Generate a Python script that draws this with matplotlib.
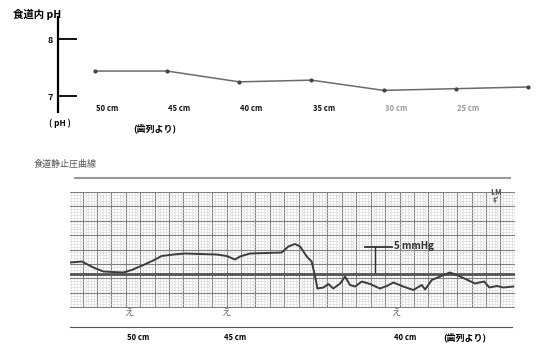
import numpy as np
import matplotlib
matplotlib.use("Agg")
import matplotlib.pyplot as plt
import matplotlib.transforms as mtransforms

plt.rcParams['font.family'] = ['Noto Sans CJK JP', 'DejaVu Sans']

# pH along the oesophagus (distance from the teeth)
depth_labels = ["50 cm", "45 cm", "40 cm", "35 cm", "30 cm", "25 cm"]
ph_values = [7.44, 7.44, 7.25, 7.28, 7.10, 7.13, 7.16]
ph_ticks = [7, 8]

# resting pressure trace, time in mm of chart paper, pressure in mmHg above baseline
trace_t = [0, 4.1, 8.1, 11.6, 15.0, 18.5, 21.4, 25.5, 28.9, 31.8, 35.9, 39.9, 45.1,
           50.9, 54.4, 57.3, 59.0, 62.5, 73.5, 75.8, 78.1, 79.9, 82.2, 83.9, 85.1,
           85.9, 88.0, 89.7, 91.4, 93.8, 95.5, 97.2, 99.0, 101.3, 104.2, 107.6,
           110.0, 112.3, 115.7, 119.2, 122.1, 123.3, 125.6, 128.5, 131.9, 134.3,
           137.7, 140.6, 143.8, 145.6, 148.2, 150.5, 153.9]
trace_p = [2.2, 2.4, 1.2, 0.4, 0.3, 0.2, 0.7, 1.7, 2.6, 3.5, 3.8, 4.0, 3.9,
           3.8, 3.5, 2.8, 3.4, 4.0, 4.2, 5.4, 5.9, 5.4, 3.4, 2.4, -0.6,
           -3.0, -2.8, -2.1, -3.0, -2.0, -0.6, -2.3, -2.6, -1.6, -2.1, -3.0,
           -2.5, -1.8, -2.6, -3.3, -2.3, -3.2, -1.3, -0.6, 0.2, -0.3,
           -1.2, -2.0, -1.6, -2.8, -2.5, -2.8, -2.6]
pull_labels = ["50 cm", "45 cm", "40 cm"]
pull_t = [20.8, 54.5, 113.5]

W, H = 536, 344


def px_rect(l, t, r, b):
    return [l / W, 1 - b / H, (r - l) / W, (b - t) / H]


def fig_text(x, y, s, **kw):
    fig.text(x / W, 1 - y / H, s, **kw)


fig = plt.figure(figsize=(W / 100, H / 100), dpi=100)

# ---- top: pH ----
ax1 = fig.add_axes(px_rect(58, 17, 536, 112))
ax1.patch.set_alpha(0)
x = np.arange(len(ph_values))
ax1.plot(x, ph_values, color="#6a6a6a", lw=1.1, marker="o", ms=2, mfc="#444444", mec="#444444")
ax1.set_xlim(-0.51, 6.11)
ax1.set_ylim(6.72, 8.39)
for s in ["top", "right", "bottom"]:
    ax1.spines[s].set_visible(False)
ax1.spines["left"].set_linewidth(1.6)
ax1.set_xticks([])
ax1.set_yticks(ph_ticks)
ax1.set_yticklabels([str(v) for v in ph_ticks], fontsize=6.5, fontweight="bold")
ax1.tick_params(axis="y", direction="in", length=14, width=1.3, pad=4)

trans = mtransforms.blended_transform_factory(ax1.transData, ax1.transAxes)
label_colors = ["#111111"] * 4 + ["#999999"] * 2
for i, lab in enumerate(depth_labels):
    ax1.text(i + 0.17, 0.04, lab, transform=trans, ha="center", va="center",
             fontsize=5.5, fontweight="bold", color=label_colors[i])

fig_text(37, 14, "食道内 pH", fontsize=7.5, fontweight="bold", ha="center", va="center")
fig_text(60, 123, "( pH )", fontsize=6, fontweight="bold", ha="center", va="center")
fig_text(155, 128, "(歯列より)", fontsize=6.5, fontweight="bold", ha="center", va="center")

# ---- bottom: chart paper ----
fig_text(65, 164, "食道静止圧曲線", fontsize=6.5, color="#555555", ha="center", va="center")
fig.add_artist(plt.Line2D([75 / W, 510 / W], [1 - 178 / H] * 2, color="#9a9a9a", lw=1.5))

axg = fig.add_axes(px_rect(70, 192, 515, 308))
axg.set_xlim(0, 154.5)
axg.set_ylim(0, 40.3)
axg.set_xticks(np.arange(4.4, 155, 5))
axg.set_xticks(np.arange(0.4, 155, 1), minor=True)
axg.set_yticks(np.arange(0.3, 41, 5))
axg.set_yticks(np.arange(0.3, 41, 1), minor=True)
axg.grid(which="minor", color="#d6d6d6", lw=0.4)
axg.grid(which="major", color="#808080", lw=0.8)
axg.tick_params(which="both", length=0, labelbottom=False, labelleft=False)
for s in axg.spines.values():
    s.set_visible(False)

ax2 = fig.add_axes(px_rect(70, 192, 515, 308))
ax2.patch.set_alpha(0)
ax2.set_xlim(0, 154.5)
ax2.set_ylim(-6.9, 16.3)
ax2.axhline(0, color="#555555", lw=2.0)
ax2.plot(trace_t, trace_p, color="#3c3c3c", lw=1.4)
ax2.axis("off")

# 5 mmHg calibration bar
ax2.plot([102.4, 111.8], [5.3, 5.3], color="#333333", lw=1.3)
ax2.plot([105.9, 105.9], [0.3, 5.3], color="#333333", lw=1.0)
ax2.text(112.5, 5.6, "5 mmHg", fontsize=7, color="#333333", style="italic",
         fontweight="bold", va="center")
ax2.text(148, 15.3, "I.M\nｷﾞ", fontsize=5.5, color="#444444", style="italic",
         fontweight="bold", ha="center", va="center", linespacing=0.9, clip_on=False)

# pull-through marks and depth labels
trans2 = mtransforms.blended_transform_factory(ax2.transData, fig.transFigure)
for t, lab in zip(pull_t, pull_labels):
    ax2.text(t, 1 - 312 / H, "ぇ", transform=trans2, fontsize=8, color="#666666",
             ha="center", va="center", clip_on=False)
    ax2.text(t + 3, 1 - 338 / H, lab, transform=trans2, fontsize=5.5, fontweight="bold",
             ha="center", va="center", clip_on=False)
fig.add_artist(plt.Line2D([70 / W, 512 / W], [1 - 327 / H] * 2, color="#555555", lw=0.8))
fig_text(465, 337, "(歯列より)", fontsize=6.5, fontweight="bold", ha="center", va="center")

fig.savefig("out.png", dpi=100)
